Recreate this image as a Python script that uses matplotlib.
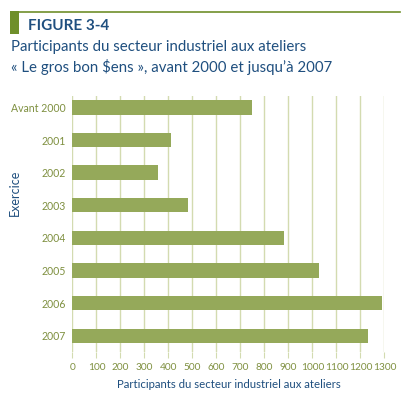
import matplotlib.pyplot as plt
from matplotlib.patches import Rectangle
from matplotlib.lines import Line2D

plt.rcParams['font.family'] = ['Lato', 'DejaVu Sans']

# data
categories = ['Avant 2000', '2001', '2002', '2003', '2004', '2005', '2006', '2007']
participants = [750, 410, 355, 483, 880, 1027, 1290, 1230]
xticks = list(range(0, 1301, 100))

BAR = '#95a95a'
GRID = '#d3dbb0'
TICK = '#7f9040'
BLUE = '#1f4f7f'
HEAD = '#6f8f2a'

fig = plt.figure(figsize=(4.10, 4.07), dpi=100)
W, H = 410, 407

# header decoration
fig.add_artist(Rectangle((10 / W, 1 - 34 / H), 9 / W, 23 / H,
                         transform=fig.transFigure, color=HEAD, lw=0))
fig.add_artist(Line2D([19 / W, 400 / W], [1 - 11.5 / H, 1 - 11.5 / H],
                      transform=fig.transFigure, color=HEAD, lw=1.2))
fig.text(28 / W, 1 - 26 / H, 'FIGURE 3-4', color=BLUE, fontsize=11,
         fontweight='bold', va='center', ha='left')
fig.text(11 / W, 1 - 47 / H, 'Participants du secteur industriel aux ateliers',
         color=BLUE, fontsize=10.8, va='center', ha='left')
fig.text(11 / W, 1 - 67 / H, '« Le gros bon $ens », avant 2000 et jusqu’à 2007',
         color=BLUE, fontsize=10.8, va='center', ha='left')

# plot area
left, right, top, bottom = 72.5, 384.5, 96, 352
ax = fig.add_axes([left / W, 1 - bottom / H, (right - left) / W, (bottom - top) / H])

ypos = list(range(len(categories)))
ax.barh(ypos, participants, height=0.44, color=BAR, zorder=3)
ax.set_xlim(0, 1300)
ax.set_ylim(7.5, -0.35)
ax.set_yticks(ypos)
ax.set_yticklabels(categories)
ax.set_xticks(xticks)
ax.set_xticklabels([str(t) for t in xticks])
ax.grid(axis='x', color=GRID, lw=1.0, zorder=0)
for s in ax.spines.values():
    s.set_visible(False)
ax.tick_params(axis='y', length=0, pad=5, labelsize=7.6, labelcolor=TICK)
ax.tick_params(axis='x', length=4, color=GRID, pad=4, labelsize=7.3, labelcolor=TICK)
ax.set_ylabel('Exercice', color=BLUE, fontsize=9)
ax.yaxis.set_label_coords(21 / W, 1 - 193 / H, transform=fig.transFigure)
ax.set_xlabel('Participants du secteur industriel aux ateliers', color=BLUE,
              fontsize=8.2, labelpad=5)

fig.savefig('out.png', dpi=100)
